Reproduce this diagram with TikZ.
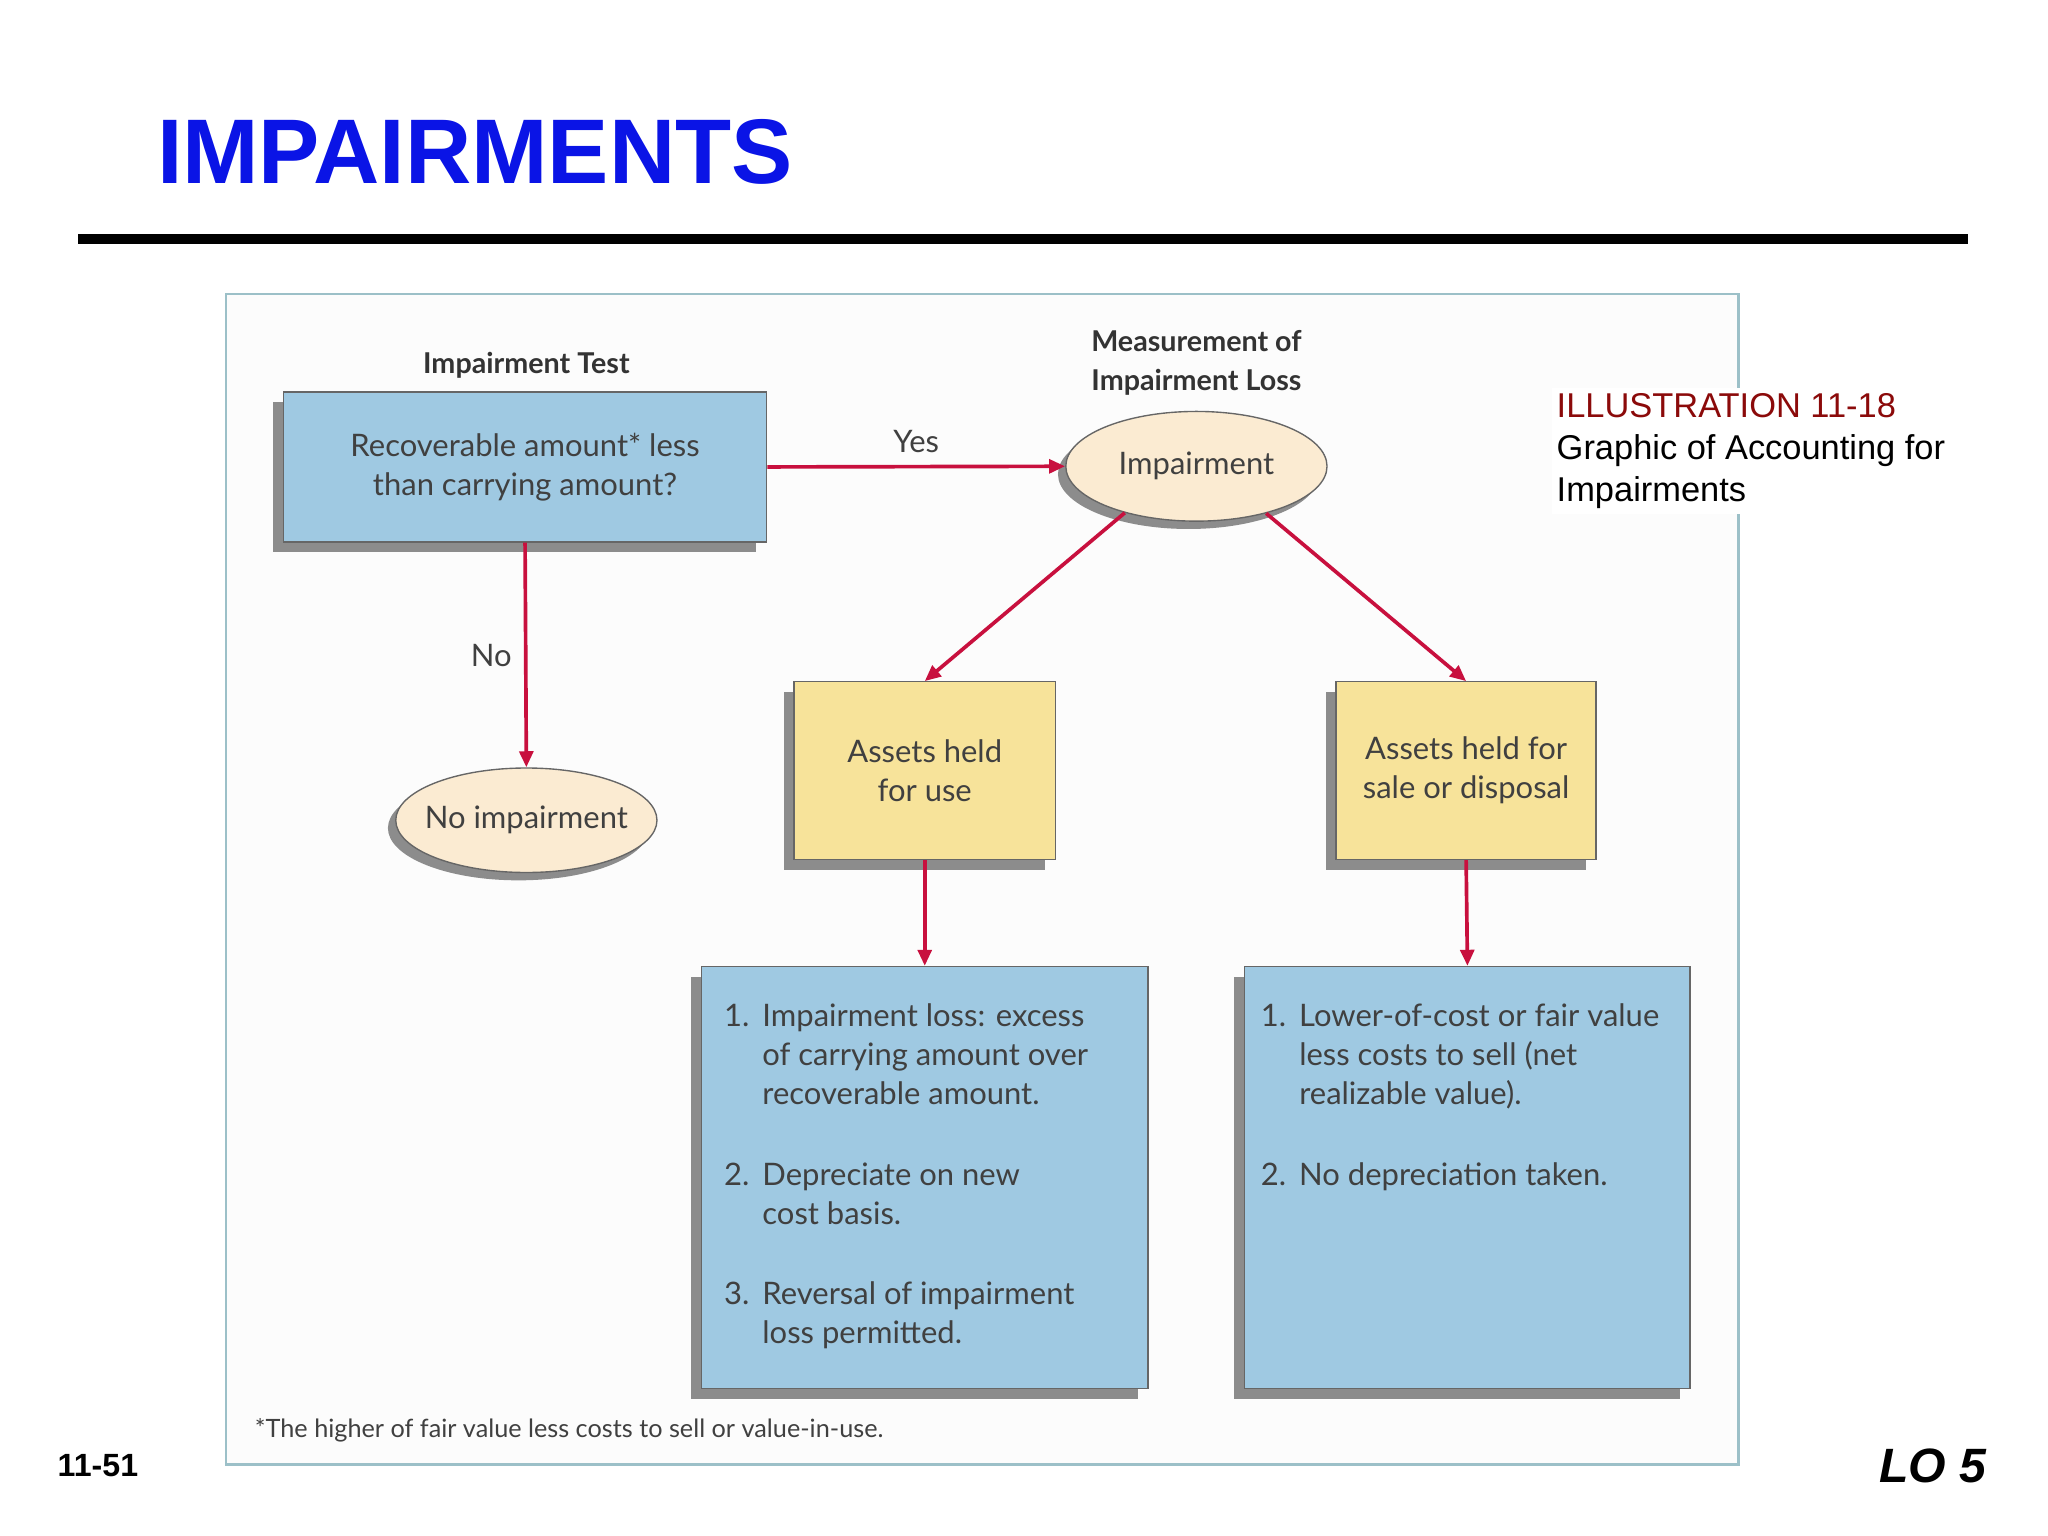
\documentclass[tikz,border=0pt]{standalone}
\usepackage{fontspec}
\setmainfont{Liberation Sans}
\newfontfamily\diag{Lato}
\usetikzlibrary{shapes.geometric,arrows.meta}
\definecolor{bbox}{HTML}{9FC9E2}
\definecolor{ybox}{HTML}{F7E39A}
\definecolor{ell}{HTML}{FBEBD2}
\definecolor{arr}{HTML}{C8103E}
\definecolor{frm}{HTML}{9CC0C8}
\definecolor{shd}{HTML}{8C8C8C}
\definecolor{ttl}{HTML}{0A14E6}
\definecolor{ill}{HTML}{8B0A0A}
\begin{document}
\begin{tikzpicture}[x=0.02cm,y=-0.02cm,
  bx/.style={draw=black!60,line width=0.6pt,align=center,inner sep=0pt,font=\diag\fontsize{13.5}{17}\selectfont,text=black!75},
  el/.style={ellipse,draw=black!60,fill=ell,line width=0.6pt,font=\diag\fontsize{13.5}{17}\selectfont,text=black!75,inner sep=0pt},
  ar/.style={draw=arr,line width=1.6pt,-{Triangle[length=7pt,width=6pt]}},
  lbl/.style={font=\diag\fontsize{13.5}{17}\selectfont,text=black!75},
  hd/.style={font=\diag\bfseries\fontsize{12.5}{17}\selectfont,text=black!80,align=center}]
\useasboundingbox (0,0) rectangle (1568,1176);
\fill[white] (0,0) rectangle (1568,1176);
\node[anchor=west,font=\bfseries\fontsize{40}{46}\selectfont,text=ttl] (title) at (114,116) {IMPAIRMENTS};
\fill[black] (60,179) rectangle (1507,187);
\draw[frm,fill=black!1,line width=1.2pt] (173,225) rectangle (1331,1121);
% shadows
\fill[shd] (209,308) rectangle (579,423);
\fill[shd] (600,530) rectangle (800,666);
\fill[shd] (1015,530) rectangle (1214,666);
\fill[shd] (529,748) rectangle (871,1071);
\fill[shd] (945,748) rectangle (1286,1071);
\fill[shd] (910,363) ellipse (100 and 42);
\fill[shd] (397,634) ellipse (100 and 40);
% nodes
\node[hd] (h1) at (403,280) {Impairment Test};
\node[hd] (h2) at (916,278) {Measurement of\\Impairment Loss};
\node[bx,fill=bbox,minimum width=370*0.02cm,minimum height=115*0.02cm] (rec) at (402,357.5) {Recoverable amount* less\\than carrying amount?};
\node[el,minimum width=200*0.02cm,minimum height=84*0.02cm] (imp) at (916,357) {\makebox[0pt]{Impairment}};
\node[el,minimum width=200*0.02cm,minimum height=80*0.02cm] (noimp) at (403,628) {\makebox[0pt]{No impairment}};
\node[bx,fill=ybox,minimum width=200*0.02cm,minimum height=136*0.02cm] (use) at (708,590) {Assets held\\for use};
\node[bx,fill=ybox,minimum width=199*0.02cm,minimum height=136*0.02cm] (sale) at (1122.5,590) {Assets held for\\sale or disposal};
\node[bx,fill=bbox,minimum width=342*0.02cm,minimum height=323*0.02cm] (b1) at (708,901.5) {};
\node[bx,fill=bbox,minimum width=341*0.02cm,minimum height=323*0.02cm] (b2) at (1123.5,901.5) {};
\node[lbl,anchor=north west,align=left,inner sep=0pt] (t1) at (554,765) {\fontsize{13.5}{17}\selectfont%
\begin{tabular}{@{}l@{\ \,}l@{}}1.&Impairment loss: excess\\&of carrying amount over\\&recoverable amount.\\[18pt]
2.&Depreciate on new\\&cost basis.\\[18pt]3.&Reversal of impairment\\&loss permitted.\end{tabular}};
\node[lbl,anchor=north west,align=left,inner sep=0pt] (t2) at (965,765) {\fontsize{13.5}{17}\selectfont%
\begin{tabular}{@{}l@{\ \,}l@{}}1.&Lower-of-cost or fair value\\&less costs to sell (net\\&realizable value).\\[18pt]
2.&No depreciation taken.\end{tabular}};
% arrows
\draw[ar] (rec.east) -- node[lbl,above=2pt] (yes) {Yes} (imp.west);
\draw[ar] (rec.south) -- node[lbl,left=2pt] (no) {No} (noimp.north);
\draw[ar] (imp.213) -- (use.north);
\draw[ar] (imp.-34) -- (sale.north);
\draw[ar] (use.south) -- (b1.north);
\draw[ar] (sale.south) -- (b2.north);
\node[anchor=west,font=\diag\fontsize{11}{13}\selectfont,text=black!75] (fn) at (189,1095) {*The higher of fair value less costs to sell or value-in-use.};
% illustration label
\node[anchor=north west,fill=white,align=left,inner sep=2pt,font=\fontsize{15}{18.5}\selectfont] (ill) at (1188,297) {\textcolor{ill}{ILLUSTRATION 11-18}\\Graphic of Accounting for\\Impairments};
\node[anchor=west,font=\bfseries\fontsize{14}{18}\selectfont] (pg) at (38,1122) {11-51};
\node[anchor=east,font=\bfseries\itshape\fontsize{21}{25}\selectfont] (lo) at (1527,1122) {LO 5};
\end{tikzpicture}
\end{document}
